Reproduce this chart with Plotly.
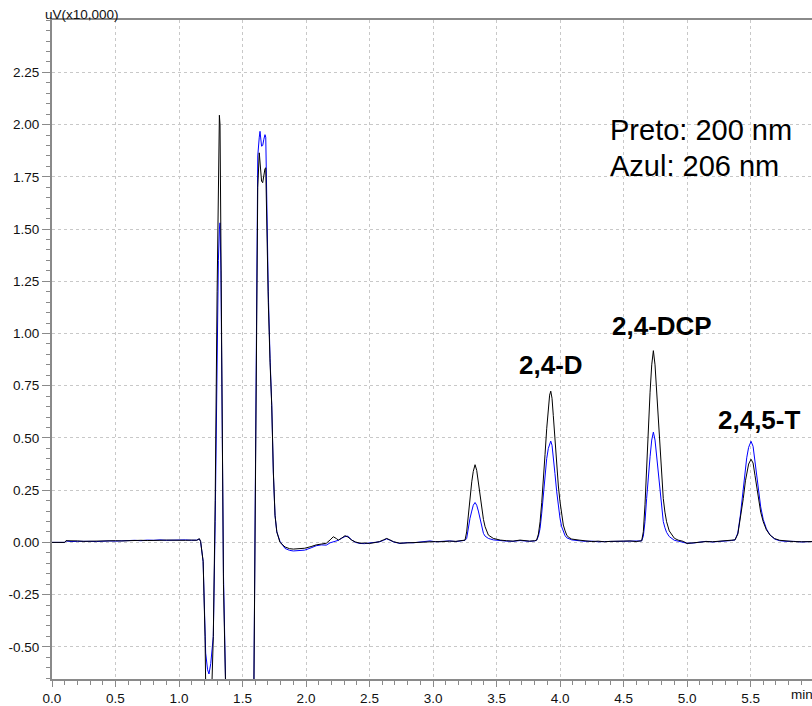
import plotly.graph_objects as go

# Retention time (min) shared by both detector channels
time_min = [
    0.00, 0.10, 0.11, 0.15, 0.20, 0.25, 0.30, 0.35, 0.40, 0.45, 0.50, 0.55, 0.60, 0.65,
    0.70, 0.75, 0.80, 0.85, 0.90, 0.95, 1.00, 1.05, 1.10, 1.14, 1.16, 1.17, 1.19, 1.20,
    1.205, 1.21, 1.225, 1.236, 1.25, 1.26, 1.27, 1.285, 1.30, 1.31, 1.318, 1.323, 1.33,
    1.34, 1.35, 1.367, 1.40, 1.50, 1.58, 1.59, 1.60, 1.61, 1.62, 1.632, 1.638, 1.65,
    1.659, 1.668, 1.677, 1.683, 1.69, 1.703, 1.717, 1.73, 1.743, 1.756, 1.77, 1.795,
    1.835, 1.87, 1.90, 1.95, 1.99, 2.04, 2.08, 2.12, 2.16, 2.19, 2.215, 2.24, 2.255,
    2.28, 2.307, 2.33, 2.36, 2.39, 2.425, 2.46, 2.50, 2.55, 2.58, 2.61, 2.635, 2.66,
    2.69, 2.74, 2.80, 2.845, 2.90, 2.95, 2.976, 3.02, 3.055, 3.10, 3.13, 3.18, 3.22,
    3.252, 3.265, 3.278, 3.291, 3.305, 3.317, 3.331, 3.344, 3.357, 3.37, 3.383, 3.397,
    3.41, 3.436, 3.475, 3.53, 3.58, 3.63, 3.685, 3.72, 3.76, 3.80, 3.816, 3.83, 3.843,
    3.856, 3.869, 3.882, 3.895, 3.908, 3.918, 3.927, 3.937, 3.947, 3.96, 3.974, 3.987,
    4.00, 4.013, 4.026, 4.04, 4.053, 4.066, 4.092, 4.15, 4.20, 4.25, 4.30, 4.35, 4.40,
    4.45, 4.50, 4.55, 4.60, 4.643, 4.656, 4.669, 4.682, 4.695, 4.709, 4.722, 4.735,
    4.748, 4.761, 4.774, 4.787, 4.80, 4.813, 4.826, 4.839, 4.86, 4.879, 4.90, 4.93,
    4.97, 5.00, 5.05, 5.10, 5.15, 5.20, 5.25, 5.30, 5.35, 5.378, 5.40, 5.42, 5.443,
    5.46, 5.47, 5.485, 5.504, 5.52, 5.535, 5.55, 5.561, 5.58, 5.60, 5.625, 5.654,
    5.69, 5.73, 5.78, 5.84, 5.90, 5.97, 6.00,
]

# Detector signal at 200 nm (uV x10,000)
signal_200nm = [
    0.000, 0.000, 0.008, 0.006, 0.007, 0.005, 0.006, 0.005, 0.007, 0.006, 0.008, 0.007,
    0.009, 0.008, 0.010, 0.009, 0.011, 0.010, 0.011, 0.010, 0.011, 0.010, 0.011, 0.010,
    0.018, 0.005, -0.090, -0.300, -0.450, -0.680, -0.800, -0.820, -0.750, -0.660, -0.450,
    0.200, 1.200, 1.800, 2.045, 2.000, 1.500, 0.600, -0.200, -0.700, -0.900, -0.950,
    -0.850, -0.660, 0.200, 1.200, 1.700, 1.865, 1.830, 1.730, 1.722, 1.760, 1.790, 1.793,
    1.550, 1.150, 0.860, 0.655, 0.337, 0.130, 0.051, 0.000, -0.022, -0.030, -0.032,
    -0.030, -0.028, -0.020, -0.012, -0.008, -0.004, 0.012, 0.027, 0.018, 0.011, 0.020,
    0.032, 0.026, 0.011, 0.002, -0.004, -0.003, -0.005, 0.000, 0.004, 0.012, 0.019,
    0.012, 0.003, -0.004, -0.002, 0.000, 0.003, 0.005, 0.006, 0.004, 0.003, 0.006,
    0.006, 0.005, 0.008, 0.011, 0.050, 0.130, 0.220, 0.290, 0.340, 0.372, 0.345, 0.290,
    0.225, 0.162, 0.110, 0.075, 0.035, 0.019, 0.011, 0.008, 0.006, 0.011, 0.008, 0.006,
    0.008, 0.011, 0.040, 0.099, 0.190, 0.290, 0.420, 0.544, 0.650, 0.705, 0.724, 0.690,
    0.608, 0.490, 0.369, 0.270, 0.194, 0.130, 0.083, 0.055, 0.035, 0.025, 0.016, 0.011,
    0.006, 0.004, 0.006, 0.003, 0.005, 0.004, 0.006, 0.007, 0.004, 0.008, 0.051, 0.180,
    0.369, 0.550, 0.719, 0.850, 0.918, 0.850, 0.719, 0.560, 0.417, 0.300, 0.210, 0.145,
    0.099, 0.055, 0.035, 0.020, 0.011, 0.005, -0.005, -0.002, 0.002, 0.004, 0.003,
    0.005, 0.006, 0.008, 0.012, 0.040, 0.110, 0.210, 0.295, 0.337, 0.375, 0.398, 0.380,
    0.321, 0.255, 0.210, 0.145, 0.099, 0.060, 0.035, 0.018, 0.010, 0.006, 0.004, 0.003,
    0.003, 0.004,
]

# Detector signal at 206 nm (uV x10,000)
signal_206nm = [
    0.000, 0.000, 0.007, 0.004, 0.005, 0.006, 0.005, 0.004, 0.006, 0.007, 0.006, 0.008,
    0.008, 0.010, 0.008, 0.011, 0.010, 0.012, 0.010, 0.011, 0.010, 0.012, 0.010, 0.011,
    0.016, 0.004, -0.092, -0.280, -0.430, -0.530, -0.610, -0.630, -0.580, -0.520, -0.450,
    0.100, 0.900, 1.350, 1.500, 1.530, 1.300, 0.550, -0.150, -0.680, -0.900, -0.950,
    -0.850, -0.660, 0.300, 1.400, 1.850, 1.940, 1.968, 1.897, 1.900, 1.930, 1.952, 1.940,
    1.600, 1.200, 0.880, 0.660, 0.330, 0.130, 0.050, 0.005, -0.029, -0.038, -0.041,
    -0.040, -0.037, -0.026, -0.016, -0.012, -0.013, -0.002, 0.004, 0.008, 0.010, 0.020,
    0.028, 0.030, 0.011, 0.000, -0.005, -0.006, -0.004, 0.001, 0.003, 0.010, 0.017,
    0.011, 0.002, -0.005, -0.001, -0.002, 0.001, 0.004, 0.007, 0.003, 0.004, 0.005,
    0.007, 0.004, 0.006, 0.010, 0.019, 0.070, 0.115, 0.150, 0.178, 0.191, 0.178, 0.150,
    0.110, 0.075, 0.043, 0.030, 0.019, 0.012, 0.008, 0.006, 0.005, 0.009, 0.007, 0.005,
    0.007, 0.010, 0.030, 0.067, 0.140, 0.226, 0.320, 0.401, 0.450, 0.475, 0.485, 0.465,
    0.417, 0.330, 0.242, 0.170, 0.115, 0.075, 0.051, 0.032, 0.022, 0.019, 0.012, 0.008,
    0.005, 0.006, 0.003, 0.004, 0.004, 0.006, 0.005, 0.004, 0.006, 0.007, 0.030, 0.100,
    0.210, 0.320, 0.410, 0.490, 0.528, 0.490, 0.410, 0.310, 0.225, 0.155, 0.100, 0.070,
    0.048, 0.028, 0.018, 0.010, 0.006, 0.002, -0.004, -0.003, 0.001, 0.005, 0.002,
    0.004, 0.005, 0.009, 0.012, 0.045, 0.130, 0.255, 0.355, 0.405, 0.455, 0.484, 0.460,
    0.390, 0.310, 0.255, 0.170, 0.110, 0.065, 0.035, 0.016, 0.008, 0.005, 0.005, 0.002,
    0.004, 0.003,
]

# Compound names and where their labels sit (min, signal)
peak_names = ["2,4-D", "2,4-DCP", "2,4,5-T"]
peak_label_time = [3.93, 4.80, 5.567]
peak_label_level = [0.85, 1.036, 0.587]

x_tick_vals = [0.0, 0.5, 1.0, 1.5, 2.0, 2.5, 3.0, 3.5, 4.0, 4.5, 5.0, 5.5]
y_tick_vals = [-0.50, -0.25, 0.00, 0.25, 0.50, 0.75, 1.00, 1.25, 1.50, 1.75, 2.00, 2.25]

FONT = "Arial, Liberation Sans, sans-serif"
AXIS_GRAY = "#8a8a8a"
GRID_GRAY = "#c8c8c8"

fig = go.Figure()
fig.add_trace(go.Scatter(x=time_min, y=signal_206nm, mode="lines",
                         line=dict(color="#0000ff", width=1), name="206 nm"))
fig.add_trace(go.Scatter(x=time_min, y=signal_200nm, mode="lines",
                         line=dict(color="#000000", width=1), name="200 nm"))

fig.update_layout(
    width=812, height=706,
    margin=dict(l=52, r=0, t=20, b=25),
    plot_bgcolor="white", paper_bgcolor="white",
    showlegend=False,
    font=dict(family=FONT, size=13.5, color="#111111"),
)

fig.update_xaxes(
    range=[0, 5.984],
    tickmode="array", tickvals=x_tick_vals,
    ticktext=[f"{v:.1f}" for v in x_tick_vals],
    ticks="outside", ticklen=6, tickwidth=1, tickcolor=AXIS_GRAY,
    showline=True, linecolor=AXIS_GRAY, linewidth=2, mirror=True,
    showgrid=True, gridcolor=GRID_GRAY, griddash="3px,3px", gridwidth=1,
    zeroline=False,
    minor=dict(tick0=0, dtick=0.1, ticks="outside", ticklen=3.5,
               tickcolor=AXIS_GRAY, showgrid=False),
    tickfont=dict(family=FONT, size=13.5, color="#111111"),
)

fig.update_yaxes(
    range=[-0.654, 2.501],
    tickmode="array", tickvals=y_tick_vals,
    ticktext=[f"{v:.2f}" for v in y_tick_vals],
    ticks="outside", ticklen=8, tickwidth=1, tickcolor=AXIS_GRAY,
    showline=True, linecolor=AXIS_GRAY, linewidth=2,
    showgrid=True, gridcolor=GRID_GRAY, griddash="3px,3px", gridwidth=1,
    zeroline=False,
    minor=dict(tick0=0, dtick=0.05, ticks="outside", ticklen=4,
               tickcolor=AXIS_GRAY, showgrid=False),
    tickfont=dict(family=FONT, size=13.5, color="#111111"),
)

# Axis unit labels
fig.add_annotation(text="uV(x10,000)", xref="paper", yref="paper",
                   x=-0.0118, y=1.0083, xanchor="left", yanchor="middle",
                   showarrow=False, font=dict(family=FONT, size=13.5, color="#111111"))
fig.add_annotation(text="min", xref="paper", yref="paper",
                   x=0.970, y=-0.0242, xanchor="left", yanchor="middle",
                   showarrow=False, font=dict(family=FONT, size=13.5, color="#111111"))

# Wavelength key
fig.add_annotation(text="Preto: 200 nm", xref="x", yref="y", x=4.378, y=1.975,
                   xanchor="left", yanchor="middle", showarrow=False,
                   font=dict(family=FONT, size=29, color="#000000"))
fig.add_annotation(text="Azul: 206 nm", xref="x", yref="y", x=4.378, y=1.80,
                   xanchor="left", yanchor="middle", showarrow=False,
                   font=dict(family=FONT, size=29, color="#000000"))

# Peak identification labels
for name, tx, ty in zip(peak_names, peak_label_time, peak_label_level):
    fig.add_annotation(text=f"<b>{name}</b>", xref="x", yref="y", x=tx, y=ty,
                       xanchor="center", yanchor="middle", showarrow=False,
                       font=dict(family=FONT, size=26, color="#000000"))

fig.write_html("out.html")
